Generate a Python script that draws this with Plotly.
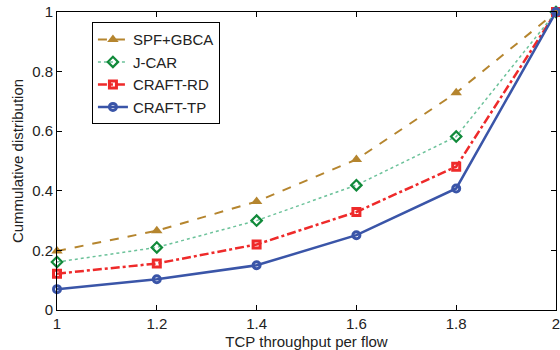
import plotly.graph_objects as go

x_vals = [1.0, 1.2, 1.4, 1.6, 1.8, 2.0]
spf_gbca = [0.198, 0.266, 0.364, 0.505, 0.729, 1.0]
j_car = [0.161, 0.21, 0.30, 0.419, 0.582, 1.0]
craft_rd = [0.122, 0.156, 0.22, 0.329, 0.481, 1.0]
craft_tp = [0.07, 0.103, 0.15, 0.251, 0.408, 1.0]

x_ticks = [1, 1.2, 1.4, 1.6, 1.8, 2]
x_tick_text = ["1", "1.2", "1.4", "1.6", "1.8", "2"]
y_ticks = [0, 0.2, 0.4, 0.6, 0.8, 1]
y_tick_text = ["0", "0.2", "0.4", "0.6", "0.8", "1"]

FONT = "Liberation Sans, Arial, sans-serif"
TXT = "#222222"

fig = go.Figure()
fig.add_trace(go.Scatter(
    x=x_vals, y=spf_gbca, name="SPF+GBCA", mode="lines+markers", cliponaxis=False,
    line=dict(color="#B5852E", width=2, dash="dash"),
    marker=dict(symbol="triangle-up", size=10, color="#B5852E"),
))
fig.add_trace(go.Scatter(
    x=x_vals, y=j_car, name="J-CAR", mode="lines+markers", cliponaxis=False,
    line=dict(color="#6CC29A", width=1.5, dash="dot"),
    marker=dict(symbol="diamond-open", size=8, color="#118A3A", line=dict(width=2.2, color="#118A3A")),
))
fig.add_trace(go.Scatter(
    x=x_vals, y=craft_rd, name="CRAFT-RD", mode="lines+markers", cliponaxis=False,
    line=dict(color="#EE2A2A", width=2.5, dash="dashdot"),
    marker=dict(symbol="square-open", size=7, color="#EE2A2A", line=dict(width=3, color="#EE2A2A")),
))
fig.add_trace(go.Scatter(
    x=x_vals, y=craft_tp, name="CRAFT-TP", mode="lines+markers", cliponaxis=False,
    line=dict(color="#3A55A8", width=2.5),
    marker=dict(symbol="circle-open", size=7, color="#3A55A8", line=dict(width=3, color="#3A55A8")),
))

axis_common = dict(
    showgrid=False, zeroline=False, showline=True, linecolor="black", linewidth=1,
    mirror="ticks", ticks="inside", ticklen=5, tickcolor="black", automargin=False,
    ticklabeloverflow="allow",
    tickfont=dict(family=FONT, size=15, color=TXT),
)
fig.update_xaxes(range=[1, 2], tickvals=x_ticks, ticktext=x_tick_text,
                 title=dict(text="TCP throughput per flow", font=dict(family=FONT, size=15, color=TXT)),
                 **axis_common)
fig.update_yaxes(range=[0, 1], tickvals=y_ticks, ticktext=y_tick_text,
                 title=dict(text="Cummulative distribution", font=dict(family=FONT, size=15, color=TXT),
                            standoff=4),
                 **axis_common)

fig.update_layout(
    width=560, height=350,
    margin=dict(l=57, r=4, t=12, b=40),
    paper_bgcolor="white", plot_bgcolor="white",
    font=dict(family=FONT, size=15, color=TXT),
    legend=dict(x=0.07, y=0.966, xanchor="left", yanchor="top",
                bgcolor="white", bordercolor="black", borderwidth=1,
                font=dict(family=FONT, size=15, color=TXT),
                itemwidth=30, tracegroupgap=0),
    showlegend=True,
)

fig.write_html(
    "out.html",
    config={"displayModeBar": False},
    post_script="document.body.style.margin='0';document.body.style.overflow='hidden';",
)
